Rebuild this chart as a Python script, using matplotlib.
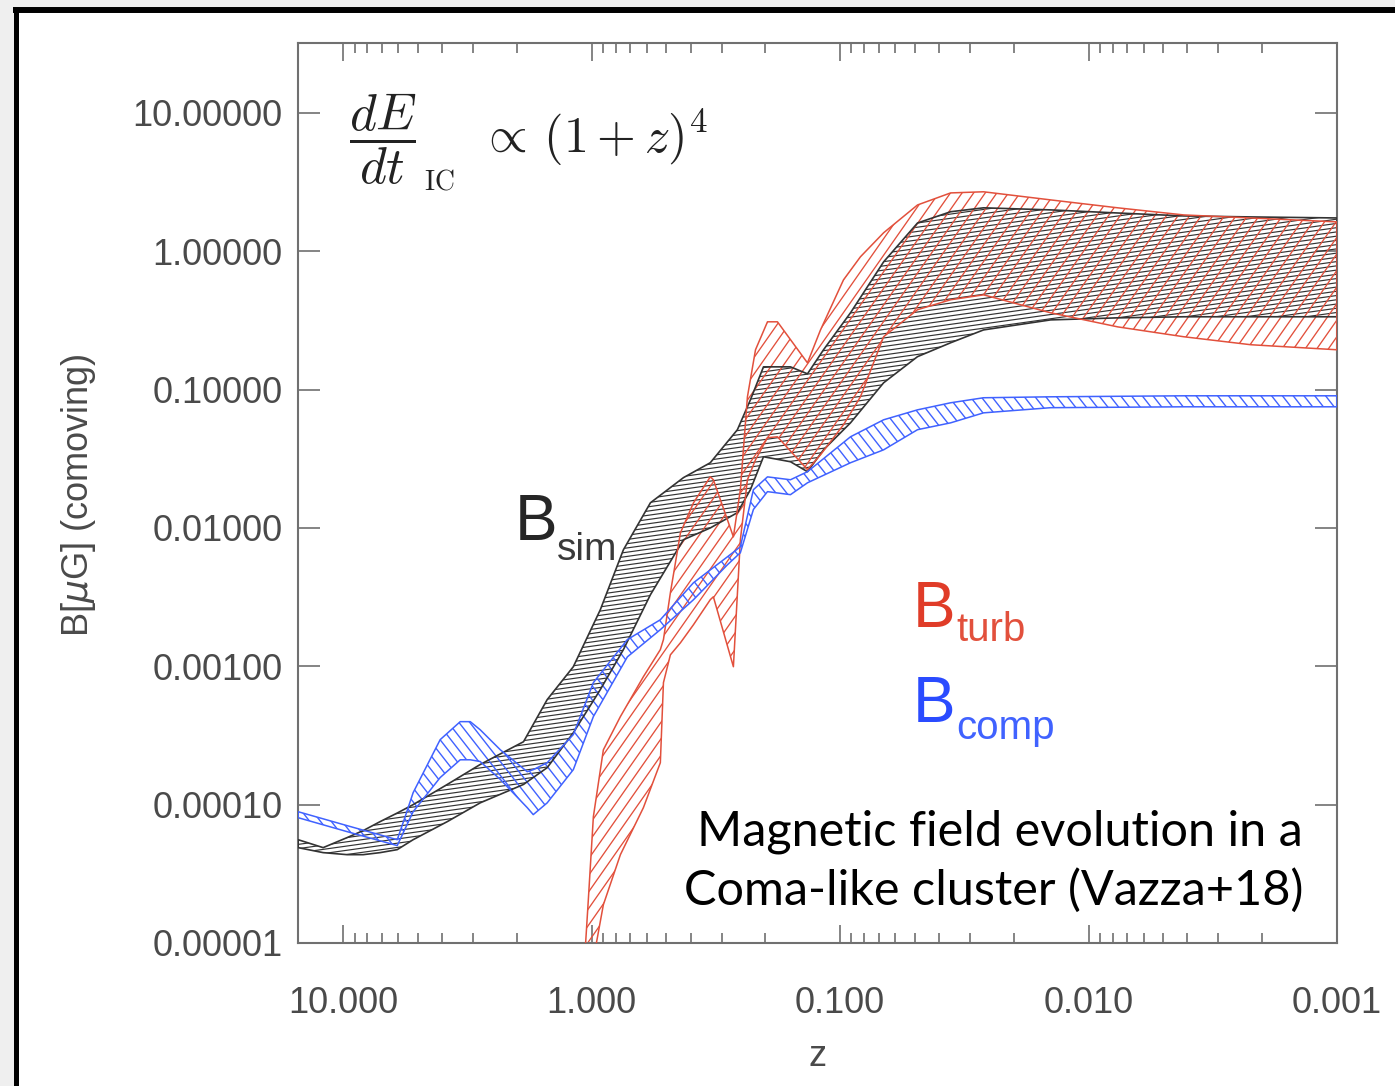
import matplotlib
matplotlib.use("Agg")
import matplotlib.pyplot as plt   # type: ignore
import numpy as np   # type: ignore
from matplotlib.collections import LineCollection
from matplotlib.lines import Line2D
from matplotlib.patches import Rectangle
from matplotlib.ticker import FixedLocator, FuncFormatter, LogLocator, NullFormatter, NullLocator

# --- B_sim band (black) ---
sim_z = [15.18, 12.04, 9.64, 8.31, 7.10, 6.06, 5.23, 3.81, 2.81, 1.88, 1.51,
         1.185, 0.923, 0.745, 0.580, 0.427, 0.333, 0.259, 0.2296, 0.2034,
         0.1584, 0.1353, 0.1166, 0.0908, 0.0668, 0.0488, 0.0359, 0.02646,
         0.01421, 0.00763, 0.00414, 0.002224, 0.001]
sim_hi = [5.58e-5, 4.89e-5, 5.78e-5, 6.49e-5, 7.54e-5, 8.7e-5, 1.00e-4,
          1.40e-4, 1.95e-4, 2.85e-4, 5.74e-4, 9.93e-4, 2.56e-3, 6.95e-3,
          0.0152, 0.0231, 0.0296, 0.0513, 0.0843, 0.146, 0.146, 0.130, 0.194,
          0.359, 0.838, 1.60, 1.93, 2.06, 1.99, 1.89, 1.80, 1.77, 1.74]
sim_lo = [4.89e-5, 4.50e-5, 4.35e-5, 4.35e-5, 4.50e-5, 4.73e-5, 5.58e-5,
          7.54e-5, 1.03e-4, 1.40e-4, 1.85e-4, 3.31e-4, 6.78e-4, 1.32e-3,
          3.29e-3, 8.22e-3, 0.0100, 0.0129, 0.0189, 0.0327, 0.0301, 0.0255,
          0.0367, 0.0575, 0.112, 0.173, 0.218, 0.270, 0.319, 0.330, 0.336,
          0.336, 0.336]

# --- B_comp band (blue) ---
comp_z = [15.18, 9.64, 6.06, 5.63, 5.23, 4.07, 3.38, 3.08, 2.81, 2.33, 1.816,
          1.718, 1.51, 1.185, 0.984, 0.718, 0.529, 0.389, 0.284, 0.252,
          0.2233, 0.196, 0.1584, 0.1353, 0.0908, 0.0668, 0.0488, 0.0359,
          0.02646, 0.01421, 0.00414, 0.001]
comp_hi = [8.89e-5, 7.05e-5, 5.58e-5, 8.19e-5, 1.22e-4, 2.95e-4, 3.98e-4,
           3.98e-4, 3.48e-4, 2.49e-4, 1.73e-4, 1.79e-4, 2.01e-4, 3.21e-4,
           7.62e-4, 1.56e-3, 2.17e-3, 4.02e-3, 6.19e-3, 7.31e-3, 0.0189,
           0.0234, 0.0223, 0.0255, 0.0456, 0.0605, 0.0714, 0.0803, 0.0873,
           0.0887, 0.0902, 0.0902]
comp_lo = [8.05e-5, 6.38e-5, 5.06e-5, 6.71e-5, 8.89e-5, 1.57e-4, 2.11e-4,
           2.11e-4, 2.05e-4, 1.52e-4, 9.51e-5, 8.47e-5, 1.03e-4, 1.79e-4,
           4.33e-4, 1.17e-3, 1.84e-3, 3.03e-3, 5.42e-3, 6.62e-3, 0.0136,
           0.0183, 0.0174, 0.0212, 0.0296, 0.0367, 0.0513, 0.0575, 0.0679,
           0.0740, 0.0751, 0.0751]

# --- B_turb band (red) ---
turb_z = [1.080, 1.031, 0.984, 0.897, 0.766, 0.619, 0.529, 0.514, 0.482,
          0.439, 0.389, 0.333, 0.3236, 0.2688, 0.252, 0.236, 0.219, 0.196,
          0.1787, 0.1353, 0.1199, 0.0969, 0.0828, 0.0668, 0.0488, 0.0359,
          0.02646, 0.01421, 0.00763, 0.00414, 0.002224, 0.001]
turb_hi = [5.44e-6, 2.06e-5, 8.19e-5, 2.49e-4, 4.33e-4, 8.41e-4, 1.32e-3,
           1.56e-3, 3.40e-3, 9.23e-3, 0.0152, 0.0234, 0.0223, 8.63e-3, 0.0189,
           0.0887, 0.194, 0.309, 0.309, 0.156, 0.270, 0.621, 0.912, 1.36,
           2.16, 2.64, 2.69, 2.35, 2.06, 1.83, 1.74, 1.63]
turb_lo = [1.70e-6, 3.90e-6, 7.59e-6, 1.89e-5, 4.35e-5, 9.51e-5, 2.01e-4,
           7.62e-4, 1.21e-3, 1.48e-3, 2.00e-3, 3.03e-3, 3.18e-3, 9.93e-4,
           8.22e-3, 0.0223, 0.0311, 0.0449, 0.0456, 0.0264, 0.0338, 0.0557,
           0.0887, 0.241, 0.378, 0.446, 0.484, 0.359, 0.284, 0.241, 0.211,
           0.194]

x_ticks = [10, 1, 0.1, 0.01, 0.001]
y_ticks = [1e-5, 1e-4, 1e-3, 1e-2, 1e-1, 1, 10]

W_PX, H_PX = 1395, 1086
GREY = "#4a4a4a"
SPINE = "#707070"


def fx(px):
    return px / W_PX


def fy(py):
    return 1 - py / H_PX


def hatch_band(ax, z, lo, hi, color, angle, gap, lw_edge, lw_hatch):
    """Outline band and fill it with clipped hatch lines (angle in degrees, gap in px)"""
    band = ax.fill_between(z, lo, hi, facecolor="none", edgecolor=color,
                           linewidth=lw_edge, zorder=3)
    fig = ax.figure
    bb = ax.get_position()
    w = bb.width * fig.get_figwidth() * fig.dpi
    h = bb.height * fig.get_figheight() * fig.dpi
    a = np.radians(angle)
    d = np.array([np.cos(a), np.sin(a)])
    n = np.array([-np.sin(a), np.cos(a)])
    L = np.hypot(w, h)
    segs = []
    for k in np.arange(-L / 2, L / 2, gap):
        c = np.array([w / 2, h / 2]) + n * k
        p0, p1 = c - d * L, c + d * L
        segs.append([(p0[0] / w, p0[1] / h), (p1[0] / w, p1[1] / h)])
    lc = LineCollection(segs, colors=color, linewidths=lw_hatch,
                        transform=ax.transAxes, zorder=2)
    ax.add_collection(lc, autolim=False)
    lc.set_clip_path(band.get_paths()[0], ax.transData)


plt.rcParams["font.family"] = ["Liberation Sans", "DejaVu Sans"]

fig = plt.figure(figsize=(W_PX / 100, H_PX / 100), dpi=100, facecolor="#efefef")
ax = fig.add_axes([fx(298), fy(943), fx(1337) - fx(298), fy(43) - fy(943)])

# slide frame: white page with black top/left edge
fig.patches.append(Rectangle((fx(16), 0), 1 - fx(16), fy(10), transform=fig.transFigure,
                             facecolor="white", edgecolor="none", zorder=-10))
fig.lines.append(Line2D([fx(13), 1], [fy(10), fy(10)], transform=fig.transFigure,
                        color="black", lw=4.3, zorder=-5, solid_capstyle="butt"))
fig.lines.append(Line2D([fx(15.5), fx(15.5)], [fy(7), 0], transform=fig.transFigure,
                        color="black", lw=3.6, zorder=-5, solid_capstyle="butt"))

ax.set_xscale("log")
ax.set_yscale("log")
ax.set_xlim(15.2, 0.001)
ax.set_ylim(1e-5, 32)

hatch_band(ax, sim_z, sim_lo, sim_hi, "#333333", 8, 4.2, 1.2, 0.85)
hatch_band(ax, turb_z, turb_lo, turb_hi, "#e2503c", 55, 9.5, 1.1, 0.95)
hatch_band(ax, comp_z, comp_lo, comp_hi, "#4062ff", -52, 8.5, 1.1, 1.0)

ax.xaxis.set_major_locator(FixedLocator(x_ticks))
ax.xaxis.set_major_formatter(FuncFormatter(lambda v, _: f"{v:.3f}"))
ax.xaxis.set_minor_locator(LogLocator(base=10, subs=np.arange(2, 10)))
ax.xaxis.set_minor_formatter(NullFormatter())
ax.yaxis.set_major_locator(FixedLocator(y_ticks))
ax.yaxis.set_major_formatter(FuncFormatter(lambda v, _: f"{v:.5f}"))
ax.yaxis.set_minor_locator(NullLocator())

for s in ax.spines.values():
    s.set_color(SPINE)
    s.set_linewidth(1.5)
ax.tick_params(which="both", direction="in", top=True, right=True,
               color=SPINE, width=1.2, labelcolor=GREY, labelsize=26)
ax.tick_params(axis="x", which="major", length=13, pad=31)
ax.tick_params(axis="x", which="minor", length=7)
ax.tick_params(axis="y", which="major", length=16, pad=11)

fig.text(fx(78), fy(495), "B[$\\mu$G] (comoving)", rotation=90, ha="center",
         va="center", fontsize=26, color=GREY)
fig.text(fx(818), fy(1057), "z", ha="center", va="center", fontsize=26, color=GREY)

# IC loss formula
fig.text(fx(349), fy(139), r"$\dfrac{dE}{dt}$", fontsize=37, math_fontfamily="cm",
         va="center", ha="left", color="#222222")
fig.text(fx(424), fy(189), r"$\mathrm{IC}$", fontsize=20, math_fontfamily="cm",
         va="baseline", ha="left", color="#222222")
fig.text(fx(480), fy(153), r"$\propto\,(1+z)^4$", fontsize=36, math_fontfamily="cm",
         va="baseline", ha="left", color="#222222")

# band labels
fig.text(fx(515), fy(540), "B", fontsize=46, color="#262626", va="baseline")
fig.text(fx(557), fy(560), "sim", fontsize=28, color="#3a3a3a", va="baseline")
fig.text(fx(913), fy(627), "B", fontsize=46, color="#e03c28", va="baseline")
fig.text(fx(956), fy(641), "turb", fontsize=29, color="#e2503c", va="baseline")
fig.text(fx(913), fy(722), "B", fontsize=46, color="#2a4bff", va="baseline")
fig.text(fx(956), fy(739), "comp", fontsize=29, color="#4062ff", va="baseline")

fig.text(fx(1303), fy(845), "Magnetic field evolution in a", fontsize=35,
         family="Lato", ha="right", va="baseline", color="black")
fig.text(fx(1303), fy(905), "Coma-like cluster (Vazza+18)", fontsize=35,
         family="Lato", ha="right", va="baseline", color="black")

fig.savefig("out.png", dpi=100, facecolor=fig.get_facecolor())
